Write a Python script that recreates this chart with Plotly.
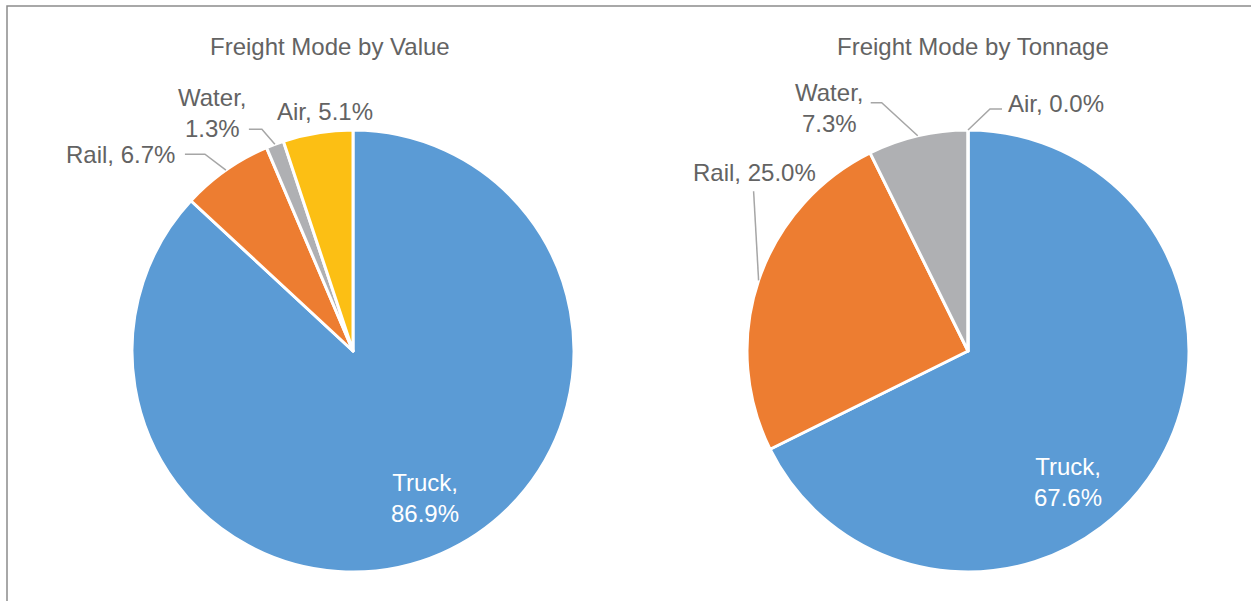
import math
import plotly.graph_objects as go

# ── Data ──────────────────────────────────────────────────────────────────────
modes = ["Truck", "Rail", "Water", "Air"]
value_share = [86.9, 6.7, 1.3, 5.1]
tonnage_share = [67.6, 25.0, 7.3, 0.0]
titles = ["Freight Mode by Value", "Freight Mode by Tonnage"]

# ── Style ─────────────────────────────────────────────────────────────────────
SLICE_COLORS = ["#5B9BD5", "#ED7D31", "#AFB0B3", "#FCBF14"]
TEXT_COLOR = "#636363"
LEADER_COLOR = "#A6A6A6"
FONT = "Liberation Sans, Arial, sans-serif"
FONT_SIZE = 24

W, H = 1251, 601
M_L, M_R, M_T, M_B = 0, 0, 130, 29
PLOT_H = H - M_T - M_B

# pie domains in pixels (left, right); both use full plot height
DOMAINS_PX = [(132, 574), (747, 1189)]

# label placement per pie and slice: (xanchor, xshift, yshift_down, leader path offsets)
LABEL_STYLE = [
    {
        "Truck": ("center", -16, -56, None),
        "Rail": ("right", -49, -16, [(-21, -16), (-41, -16)]),
        "Water": ("right", -27, -31, [(-13, -15), (-26, -15)]),
        "Air": ("center", 7, -21, None),
    },
    {
        "Truck": ("center", -88, 15, None),
        "Rail": ("center", -4, -108, [(-5, -89)]),
        "Water": ("right", -53, -28, [(-36, -33), (-47, -33)]),
        "Air": ("left", 38, -27, [(22, -21), (34, -21)]),
    },
]
TITLE_X_PX = [330, 973]
TITLE_Y_PX = 46


def px_to_paper(x, y):
    return (x - M_L) / (W - M_L - M_R), (H - M_B - y) / PLOT_H


fig = go.Figure()
annotations = []
shapes = []

for k, shares in enumerate([value_share, tonnage_share]):
    x0, x1 = DOMAINS_PX[k]
    fig.add_trace(go.Pie(
        labels=modes, values=shares,
        sort=False, direction="clockwise", rotation=0,
        marker=dict(colors=SLICE_COLORS, line=dict(color="white", width=3)),
        textinfo="none", showlegend=False,
        domain=dict(x=[(x0 - M_L) / (W - M_L - M_R), (x1 - M_L) / (W - M_L - M_R)], y=[0, 1]),
    ))

    cx = (x0 + x1) / 2
    cy = M_T + PLOT_H / 2
    r = min(x1 - x0, PLOT_H) / 2
    total = sum(shares)
    cum = 0.0
    for name, v in zip(modes, shares):
        ang = 2 * math.pi * (cum + v / 2) / total
        cum += v
        ax = cx + r * math.sin(ang)
        ay = cy - r * math.cos(ang)
        xanchor, dx, dy, path = LABEL_STYLE[k][name]
        inside = name == "Truck"
        text = f"{name},<br>{v:.1f}%" if (inside or name == "Water") else f"{name}, {v:.1f}%"
        px, py = px_to_paper(ax, ay)
        annotations.append(dict(
            x=px, y=py, xref="paper", yref="paper",
            text=text, showarrow=False,
            xanchor=xanchor, yanchor="middle", align="center",
            xshift=dx, yshift=-dy,
            font=dict(family=FONT, size=FONT_SIZE, color="white" if inside else TEXT_COLOR),
        ))
        if path:
            pts = [(ax, ay)] + [(ax + ox, ay + oy) for ox, oy in path]
            d = ""
            for i, (qx, qy) in enumerate(pts):
                qx, qy = px_to_paper(qx, qy)
                d += ("M" if i == 0 else " L") + f" {qx:.5f},{qy:.5f}"
            shapes.append(dict(type="path", path=d, xref="paper", yref="paper",
                               line=dict(color=LEADER_COLOR, width=1.5)))

    tx, ty = px_to_paper(TITLE_X_PX[k], TITLE_Y_PX)
    annotations.append(dict(
        x=tx, y=ty, xref="paper", yref="paper", text=titles[k], showarrow=False,
        xanchor="center", yanchor="middle",
        font=dict(family=FONT, size=FONT_SIZE, color=TEXT_COLOR),
    ))

# outer frame (top and left edges visible)
fx0, fy0 = px_to_paper(7, 6)
fx1, fy1 = px_to_paper(W + 5, H + 5)
shapes.append(dict(type="path", path=f"M {fx0},{fy1} L {fx0},{fy0} L {fx1},{fy0}",
                   xref="paper", yref="paper", line=dict(color="#8C8C8C", width=1.5)))

fig.update_layout(
    width=W, height=H,
    margin=dict(l=M_L, r=M_R, t=M_T, b=M_B),
    paper_bgcolor="white", plot_bgcolor="white",
    annotations=annotations, shapes=shapes,
    font=dict(family=FONT, color=TEXT_COLOR),
)

# drop the browser's default body margin so the figure sits at the page origin
fig.write_html("out.html", config={"displayModeBar": False},
               post_script="document.body.style.margin = '0';")
